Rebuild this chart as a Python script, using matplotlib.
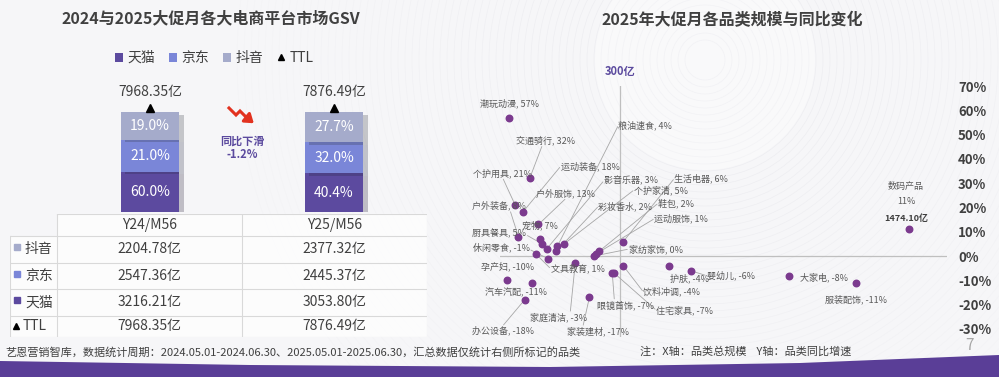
import matplotlib
matplotlib.use('Agg')
import matplotlib.pyplot as plt
import matplotlib.patheffects as pe
from matplotlib.patches import Rectangle, Polygon, Patch, Circle
from matplotlib.lines import Line2D
from matplotlib.ticker import NullLocator
import matplotlib.transforms as mtrans

plt.rcParams['font.family'] = ['Noto Sans CJK SC', 'DejaVu Sans']

# ---------------- data ----------------
platforms = ['天猫', '京东', '抖音']
periods = ['Y24/M56', 'Y25/M56']
gsv_24 = [3216.21, 2547.36, 2204.78]
gsv_25 = [3053.80, 2445.37, 2377.32]
ttl = [7968.35, 7876.49]
share_labels_24 = ['60.0%', '21.0%', '19.0%']
share_labels_25 = ['40.4%', '32.0%', '27.7%']
yoy_label = '同比下滑\n-1.2%'

categories = ['潮玩动漫', '交通骑行', '个护用具', '运动装备', '户外服饰', '户外装备', '宠物',
              '厨具餐具', '影音乐器', '粮油速食', '彩妆香水', '个护家清', '文具教育', '休闲零食',
              '鞋包', '运动服饰', '家纺家饰', '生活电器', '饮料冲调', '家庭清洁', '眼镜首饰',
              '住宅家具', '孕产妇', '汽车汽配', '办公设备', '家装建材', '护肤', '婴幼儿',
              '大家电', '服装配饰', '数码产品']
scale_yi = [162, 182, 168, 175, 191, 171, 193,
            195, 200, 212, 211, 220, 188, 201,
            267, 263, 259, 305, 305, 234, 287,
            290, 161, 184, 177, 253, 392, 442,
            761, 1101, 1474.10]
growth = [57, 32, 21, 18, 13, 8, 7,
          5, 3, 4, 2, 5, 1, -1,
          2, 1, 0, 6, -4, -3, -7,
          -7, -10, -11, -18, -17, -4, -6,
          -8, -11, 11]
y_ticks = [-30, -20, -10, 0, 10, 20, 30, 40, 50, 60, 70]
ref_scale = 300

# label layout: pixel offset of label's left/middle from the point, leader start (fraction of label box)
label_layout = {
    '潮玩动漫': (-29, 14, None), '交通骑行': (-14, 38, (0.45, 0.0)),
    '个护用具': (-42, 32, (0.5, 0.0)), '运动装备': (38, 46, (0, 0.5)),
    '户外服饰': (-2, 31, (0.5, 0.0)), '户外装备': (-46, 31, (0.7, 0.0)),
    '宠物': (-18, 14, None), '厨具餐具': (-70, 11, (1, 0.3)),
    '影音乐器': (57, 68, (0, 0.5)), '粮油速食': (61, 121, (0, 0.5)),
    '彩妆香水': (42, 45, (0, 0.5)), '个护家清': (70, 54, (0, 0.5)),
    '文具教育': (15, -15, (0, 0.5)), '休闲零食': (-75, 11, (1, 0.3)),
    '鞋包': (59, 48, (0, 0.5)), '运动服饰': (58, 35, (0, 0.5)),
    '家纺家饰': (35, 7, (0, 0.5)), '生活电器': (51, 63, (0, 0.5)),
    '饮料冲调': (20, -26, (0, 0.5)), '家庭清洁': (-45, -54, (0.7, 1.0)),
    '眼镜首饰': (-15, -32, (0.3, 1.0)), '住宅家具': (42, -37, (0, 0.5)),
    '孕产妇': (-26, 14, None), '汽车汽配': (-47, -10, None),
    '办公设备': (-53, -31, (0.5, 1.0)), '家装建材': (-22, -34, (0.25, 1.0)),
    '护肤': (1, -13, None), '婴幼儿': (16, -5, (0, 0.5)),
    '大家电': (11, -2, None), '服装配饰': (-31, -17, None),
}

# ---------------- figure ----------------
W, H = 999, 377
fig = plt.figure(figsize=(W / 100, H / 100), dpi=100)
fig.patch.set_facecolor('#F6F6F8')

def fx(px):
    return px / W

def fy(py):
    return 1 - py / H

TXT = '#404040'
GRAY = '#595959'
PURPLE = '#5B4A9E'
colors = {'天猫': '#5C4A9F', '京东': '#7A86D8', '抖音': '#A5ABCB'}

# subtle background swirl
bg = fig.add_axes([0, 0, 1, 1], zorder=-5)
bg.set_xlim(0, W)
bg.set_ylim(H, 0)
bg.axis('off')
for r in range(20, 470, 7):
    a = max(0.15, 0.6 - r / 900)
    bg.add_patch(Circle((705, 60), r, fill=False, ec='#E2E2E8', lw=0.45, alpha=a))
bg.add_patch(Circle((705, 60), 110, fc='white', ec='none', alpha=0.35))
# bottom purple swoosh
bg.add_patch(Polygon([(0, H), (0, 361), (250, 365), (550, 367), (800, 363), (999, 355), (999, H)],
                     closed=True, fc='#5A3E97', ec='none'))

# titles
fig.text(fx(211), fy(18), '2024与2025大促月各大电商平台市场GSV', ha='center', va='center',
         fontsize=11.5, weight='bold', color=TXT)
fig.text(fx(732), fy(20), '2025年大促月各品类规模与同比变化', ha='center', va='center',
         fontsize=11.5, weight='bold', color=TXT)

# legend
handles = [Patch(fc=colors[p], ec='none') for p in platforms] + \
          [Line2D([], [], marker='^', color='black', ls='none', ms=5)]
fig.legend(handles, platforms + ['TTL'], loc='center', bbox_to_anchor=(fx(214), fy(58)),
           ncol=4, frameon=False, fontsize=10, handlelength=0.6, handleheight=0.6,
           handletextpad=0.3, columnspacing=1.0, labelcolor=TXT)

# ---------------- stacked bars ----------------
ax1 = fig.add_axes([fx(57), fy(212), fx(427) - fx(57), 100 / H])
ax1.set_xlim(-0.505, 1.505)
ax1.set_ylim(0, 100)
ax1.axis('off')
bw = 0.32
for i, (vals, labs) in enumerate([(gsv_24, share_labels_24), (gsv_25, share_labels_25)]):
    bottom = 0
    for p, v, lab in zip(platforms, vals, labs):
        h = v / ttl[i] * 100
        ax1.bar(i, h, bw, bottom=bottom, color=colors[p], zorder=2,
                path_effects=[pe.SimplePatchShadow(offset=(3, -2), alpha=0.25), pe.Normal()])
        ax1.text(i, bottom + h / 2, lab, ha='center', va='center', color='white', fontsize=10, zorder=3)
        bottom += h
    tr = mtrans.offset_copy(ax1.transData, fig=fig, x=0, y=4, units='dots')
    ax1.plot(i, 100, marker='^', color='black', ms=6, transform=tr, clip_on=False, zorder=4)
    ax1.annotate(f'{ttl[i]:.2f}亿', (i, 100), xytext=(0, 20), textcoords='offset pixels',
                 ha='center', va='center', fontsize=10, color=TXT, annotation_clip=False)
ax1.text(0.5, 64, yoy_label, ha='center', va='center', fontsize=8, weight='bold',
         color=PURPLE, linespacing=1.05)
# red down arrow icon
icon = fig.add_axes([fx(226), fy(127), fx(259) - fx(226), 23 / H])
icon.set_xlim(0, 33)
icon.set_ylim(23, 0)
icon.axis('off')
icon.plot([3, 10, 14, 22], [4, 11, 7, 15], color='#E2321F', lw=2.2, solid_joinstyle='miter')
icon.annotate('', xy=(30, 21), xytext=(20, 13),
              arrowprops=dict(arrowstyle='-|>,head_width=0.35,head_length=0.5', color='#E2321F', lw=2.2))

# ---------------- table ----------------
axt = fig.add_axes([fx(10), fy(337), fx(427) - fx(10), (337 - 214) / H])
axt.set_xlim(0, 417)
axt.set_ylim(123, 0)
axt.axis('off')
col_edges = [0, 47, 232, 417]
row_edges = [0, 22, 48.5, 75, 101.5, 123]
lc = '#D9D9D9'
axt.add_patch(Rectangle((47, 0), 370, 22, fc='white', ec='none', alpha=0.7))
axt.add_patch(Rectangle((0, 22), 417, 101, fc='white', ec='none', alpha=0.7))
for k, y in enumerate(row_edges):
    axt.plot([0 if k > 0 else 47, 417], [y, y], color=lc, lw=0.8)
for x in col_edges:
    axt.plot([x, x], [22 if x == 0 else 0, 123], color=lc, lw=0.8)
for j, per in enumerate(periods):
    cx = (col_edges[j + 1] + col_edges[j + 2]) / 2
    axt.text(cx, (row_edges[0] + row_edges[1]) / 2, per, ha='center', va='center', fontsize=10, color=TXT)
row_names = ['抖音', '京东', '天猫', 'TTL']
row_vals = [[gsv_24[2], gsv_25[2]], [gsv_24[1], gsv_25[1]], [gsv_24[0], gsv_25[0]], ttl]
for r, (nm, vals) in enumerate(zip(row_names, row_vals)):
    cy = (row_edges[r + 1] + row_edges[r + 2]) / 2
    if nm in colors:
        axt.plot(7, cy - 2, marker='s', color=colors[nm], ms=5)
        axt.text(15, cy, nm, ha='left', va='center', fontsize=10, color=TXT)
    else:
        axt.plot(6, cy, marker='^', color='black', ms=5)
        axt.text(13, cy, nm, ha='left', va='center', fontsize=10, color=TXT)
    for j, v in enumerate(vals):
        cx = (col_edges[j + 1] + col_edges[j + 2]) / 2
        axt.text(cx, cy, f'{v:.2f}亿', ha='center', va='center', fontsize=10, color=TXT)

# ---------------- scatter ----------------
ax2 = fig.add_axes([fx(500), fy(337), fx(947) - fx(500), (337 - 86) / H])
ax2.set_xscale('log')
ax2.set_xlim(154.5, 1819)
ax2.set_ylim(-33.3, 70)
ax2.patch.set_alpha(0)
for s in ax2.spines.values():
    s.set_visible(False)
ax2.xaxis.set_major_locator(NullLocator())
ax2.xaxis.set_minor_locator(NullLocator())
ax2.yaxis.tick_right()
ax2.set_yticks(y_ticks)
ax2.set_yticklabels([f'{v}%' for v in y_ticks], fontsize=9.5, weight='bold', color=TXT)
ax2.tick_params(axis='y', length=0, pad=8)
ax2.axhline(0, color='#BFBFBF', lw=0.9, zorder=1)
ax2.axvline(ref_scale, color='#BFBFBF', lw=0.9, zorder=1)
ax2.annotate(f'{ref_scale}亿', (ref_scale, 70), xytext=(0, 15), textcoords='offset pixels',
             ha='center', va='center', fontsize=8, weight='bold', color=PURPLE, annotation_clip=False)
ax2.scatter(scale_yi, growth, s=22, color='#7B3A8E', zorder=3, clip_on=False)
for c, x, y in zip(categories, scale_yi, growth):
    if c in label_layout:
        dx, dy, rel = label_layout[c]
        ttr = mtrans.offset_copy(ax2.transData, fig=fig, x=dx, y=dy, units='dots')
        t = ax2.text(x, y, f'{c}, {y}%', transform=ttr, ha='left', va='center',
                     fontsize=6.5, color=GRAY, zorder=4, clip_on=False)
        if rel is not None:
            ax2.annotate('', xy=(x, y), xycoords='data', xytext=rel, textcoords=t,
                         arrowprops=dict(arrowstyle='-', color='#A6A6A6', lw=0.6,
                                         shrinkA=1, shrinkB=2),
                         annotation_clip=False, zorder=2)
    else:
        ax2.annotate(c, (x, y), xytext=(-3, 43), textcoords='offset pixels', ha='center',
                     va='center', fontsize=6.5, color=GRAY)
        ax2.annotate(f'{y}%', (x, y), xytext=(-2, 28), textcoords='offset pixels', ha='center',
                     va='center', fontsize=6.5, color=GRAY)
        ax2.annotate(f'{x:.2f}亿', (x, y), xytext=(-3, 11), textcoords='offset pixels', ha='center',
                     va='center', fontsize=6.5, weight='bold', color=TXT)

# ---------------- footer ----------------
fig.text(fx(5), fy(352), '艺恩营销智库，数据统计周期：2024.05.01-2024.06.30、2025.05.01-2025.06.30，汇总数据仅统计右侧所标记的品类',
         ha='left', va='center', fontsize=8, color=TXT)
fig.text(fx(640), fy(352), '注：X轴：品类总规模    Y轴：品类同比增速', ha='left', va='center',
         fontsize=8, color=TXT)
fig.text(fx(970), fy(346), '7', ha='center', va='center', fontsize=11, color='#A6A6A6')

fig.savefig('out.png', dpi=100, facecolor=fig.get_facecolor())
